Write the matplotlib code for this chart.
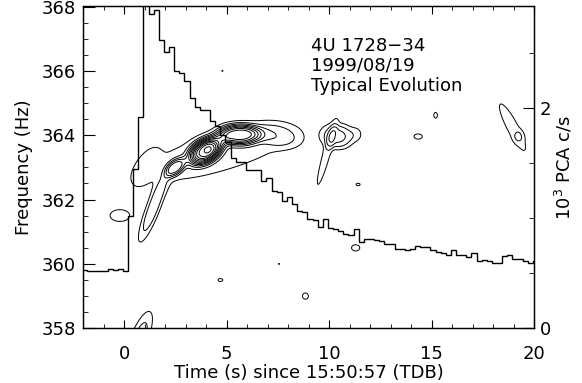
import numpy as np
import matplotlib
matplotlib.use("Agg")
import matplotlib.pyplot as plt
from matplotlib.ticker import MultipleLocator

# ---------------- light curve (10^3 PCA c/s), 0.25 s bins ----------------
lc_edge0 = -2.05
lc_binw = 0.25
lc_counts = [
    0.53, 0.52, 0.52, 0.52, 0.52, 0.54, 0.53, 0.54, 0.52,          # pre-burst
    1.02, 1.45, 1.92, 3.30, 2.86, 2.89, 2.62, 2.51, 2.56, 2.34,    # rise / peak
    2.32, 2.25, 2.09, 2.01, 1.98, 1.98, 1.88, 1.84, 1.76, 1.69,
    1.55, 1.51, 1.51, 1.44, 1.44, 1.44, 1.34, 1.37, 1.25, 1.24,
    1.16, 1.19, 1.13, 1.07, 1.06, 0.99, 0.98, 0.92, 0.99, 0.91,
    0.90, 0.88, 0.86, 0.85, 0.90, 0.78, 0.81, 0.81, 0.80, 0.79,
    0.77, 0.77, 0.72, 0.72, 0.71, 0.72, 0.75, 0.74, 0.74, 0.71,
    0.69, 0.68, 0.67, 0.71, 0.67, 0.67, 0.65, 0.68, 0.61, 0.62,
    0.61, 0.59, 0.59, 0.66, 0.67, 0.63, 0.63, 0.61, 0.59, 0.61,
]

# ---------------- dynamic power spectrum components ----------------
# centre time (s), centre freq (Hz), width in t, width in f, peak power, drift (Hz/s)
comp_t     = [3.95, 4.50, 5.65, 7.40, 2.50, 4.60, 1.10, 1.40, -0.20, 0.70,
              10.45, 9.85, 11.45, 18.95, 19.25,
              15.20, 14.35, 11.42, 11.30, 8.85, 4.70, 4.80, 7.56]
comp_f     = [363.50, 363.75, 364.02, 364.00, 363.00, 363.45, 363.10, 361.70, 361.50, 357.60,
              363.95, 363.35, 364.05, 364.25, 363.96,
              364.62, 363.96, 362.47, 360.50, 359.00, 359.50, 366.00, 360.00]
comp_st    = [0.55, 0.50, 0.70, 0.80, 0.35, 3.60, 0.50, 0.50, 0.45, 0.50,
              0.55, 0.40, 0.30, 0.70, 0.20,
              0.12, 0.25, 0.15, 0.25, 0.18, 0.18, 0.05, 0.05]
comp_sf    = [0.27, 0.25, 0.22, 0.25, 0.18, 0.60, 0.40, 0.38, 0.17, 0.45,
              0.27, 0.35, 0.20, 0.38, 0.15,
              0.12, 0.10, 0.06, 0.12, 0.12, 0.07, 0.03, 0.03]
comp_amp   = [9.8, 1.5, 7.5, 1.8, 4.5, 1.4, 0.8, 2.6, 1.5, 2.5,
              3.15, 1.5, 0.8, 1.3, 1.0,
              1.15, 1.2, 1.1, 1.2, 1.2, 1.1, 1.05, 1.05]
comp_slope = [0.20, 0.30, 0.0, -0.1, 0.3, 0.17, 0.6, 1.25, 0.0, 1.0,
              0.0, 1.9, 0.0, -1.0, 0.0,
              0.0, 0.0, 0.0, 0.0, 0.0, 0.0, 0.0, 0.0]
contour_levels = [1, 2, 3, 4, 5, 6, 7, 8, 9, 10, 11, 12]

# ---------------- build field ----------------
tt = np.linspace(-2, 20, 1101)
ff = np.linspace(358, 368, 1001)
T, F = np.meshgrid(tt, ff)
P = np.zeros_like(T)
for t0, f0, st, sf, a, k in zip(comp_t, comp_f, comp_st, comp_sf, comp_amp, comp_slope):
    dt = T - t0
    df = F - f0 - k * dt
    q = (dt / st) ** 2 + (df / sf) ** 2
    P += a * np.exp(-(q / 2.0) ** 1.5)

edges = lc_edge0 + lc_binw * np.arange(len(lc_counts) + 1)

plt.rcParams['font.family'] = ['DejaVu Sans']
fig = plt.figure(figsize=(5.82, 3.83), dpi=100)
ax = fig.add_axes([83/582, 1 - 328.3/383, (534-83)/582, (328.3-6.5)/383])
ax.contour(T, F, P, levels=contour_levels, colors='black', linewidths=0.7)
ax.set_xlim(-2, 20)
ax.set_ylim(358, 368)

ax2 = ax.twinx()
ax2.stairs(lc_counts, edges, baseline=None, color='black', linewidth=1.0)
ax2.set_ylim(0, 2.925)

fs = 13
ax.xaxis.set_major_locator(MultipleLocator(5))
ax.xaxis.set_minor_locator(MultipleLocator(1))
ax.yaxis.set_major_locator(MultipleLocator(2))
ax.yaxis.set_minor_locator(MultipleLocator(0.5))
ax2.yaxis.set_major_locator(MultipleLocator(2))
ax2.yaxis.set_minor_locator(MultipleLocator(0.5))

ax.tick_params(axis='x', which='both', direction='in', top=True, bottom=True, labelsize=fs, pad=12)
ax.tick_params(axis='x', which='major', length=6)
ax.tick_params(axis='x', which='minor', length=3)
ax.tick_params(axis='y', which='both', direction='in', left=True, right=False, labelsize=fs, pad=5)
ax.tick_params(axis='y', which='major', length=8.5)
ax.tick_params(axis='y', which='minor', length=3.8)
ax2.tick_params(axis='y', which='both', direction='in', right=True, labelsize=fs, pad=4)
ax2.tick_params(axis='y', which='major', length=8)
ax2.tick_params(axis='y', which='minor', length=3.8)

for a_ in (ax, ax2):
    for s in a_.spines.values():
        s.set_linewidth(0.9)

ax.set_xlabel('Time (s) since 15:50:57 (TDB)', fontsize=fs, labelpad=1)
ax.set_ylabel('Frequency (Hz)', fontsize=fs, labelpad=6)
ax2.set_ylabel('10$^3$ PCA c/s', fontsize=fs, labelpad=2)

ax.text(311/582, 1 - 66/383, '4U 1728\u221234\n1999/08/19\nTypical Evolution',
        transform=fig.transFigure, fontsize=fs, va='center', ha='left', linespacing=1.15)

fig.savefig('out.png', dpi=100)
